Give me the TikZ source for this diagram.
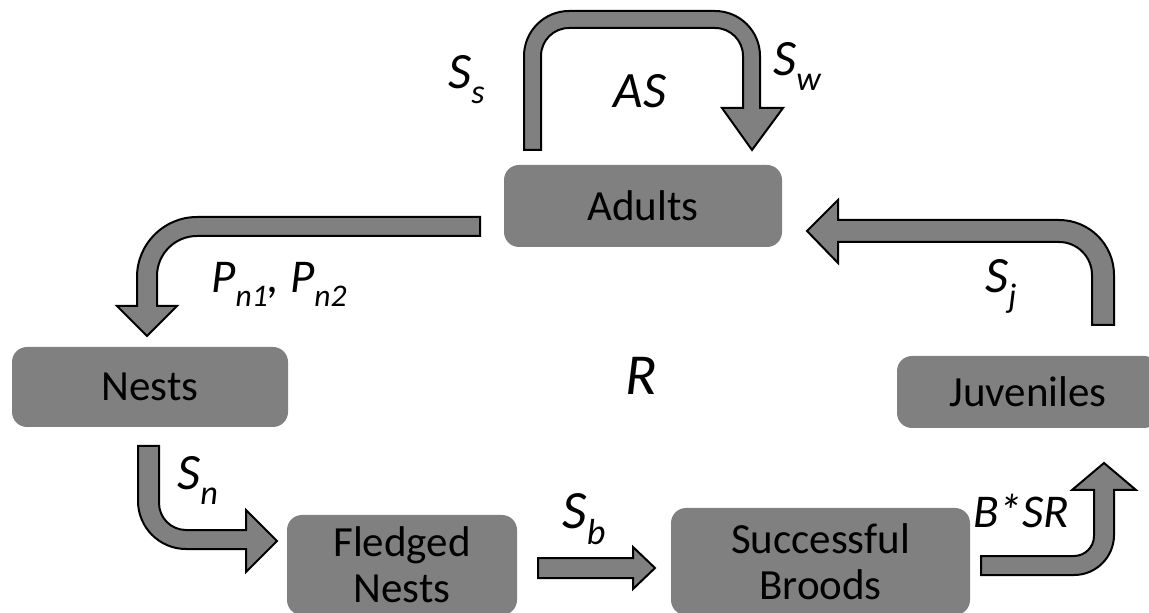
\documentclass[tikz,border=0pt]{standalone}
\usepackage{fontspec}
\setmainfont{Carlito}
\definecolor{boxgray}{RGB}{128,128,128}
\newcommand\lsub[1]{\raisebox{-0.28em}{\scalebox{0.67}{#1}}}
\begin{document}
\begin{tikzpicture}[x=0.5pt,y=-0.5pt,
  box/.style={fill=boxgray, rounded corners=7.5pt, inner sep=0pt, align=center,
    font=\fontsize{21.5}{23}\selectfont},
  barrow/.style={draw=black, line width=1pt, fill=boxgray, line join=miter},
  lab/.style={anchor=base west, inner sep=0pt, font=\fontsize{25.5}{28}\selectfont\itshape}]
\useasboundingbox (0,0) rectangle (1149,613);
\clip (0,0) rectangle (1149,613);

% boxes
\node[box, minimum width=139pt, minimum height=41pt] (adults) at (643,206) {Adults};
\node[box, minimum width=138pt, minimum height=40pt] (nests) at (150,387) {Nests};
\node[box, minimum width=115pt, minimum height=50pt] (fledged) at (402,565) {Fledged\\Nests};
\node[box, minimum width=149.5pt, minimum height=53.5pt] (broods) at (820.5,561.5) {Successful\\Broods};
\node[box, minimum width=131pt, minimum height=36pt] (juv) at (1028,392) {Juveniles};

% AS loop arrow
\draw[barrow] (524,150) -- (524,56) .. controls (524,31.2) and (544.2,11) .. (569,11)
  -- (715,11) .. controls (739.8,11) and (760,31.2) .. (760,56)
  -- (760,108) -- (783,108) -- (752,150) -- (722,108) -- (743,108)
  -- (743,56) .. controls (743,40.5) and (730.5,28) .. (715,28)
  -- (569,28) .. controls (553.5,28) and (541,40.5) .. (541,56)
  -- (541,150) -- cycle;

% Adults -> Nests
\draw[barrow] (480,217) -- (197,217) .. controls (163.9,217) and (137,243.9) .. (137,277)
  -- (137,306) -- (117,306) -- (147,336) -- (177,306) -- (157,306)
  -- (157,276) .. controls (157,253.9) and (174.9,236) .. (197,236)
  -- (480,236) -- cycle;

% Nests -> Fledged
\draw[barrow] (138,446) -- (138,501) .. controls (138,527.5) and (159.5,549) .. (186,549)
  -- (246,549) -- (246,572) -- (277,541) -- (246,510) -- (246,530)
  -- (186,530) .. controls (171.1,530) and (159,517.9) .. (159,503)
  -- (159,446) -- cycle;

% Fledged -> Broods
\draw[barrow] (538,558) -- (633,558) -- (633,547) -- (655,568) -- (633,589)
  -- (633,578) -- (538,578) -- cycle;

% Broods -> Juveniles
\draw[barrow] (981,556) -- (1074,556) .. controls (1085,556) and (1094,547) .. (1094,536)
  -- (1094,490) -- (1072,490) -- (1104,463) -- (1136,490) -- (1114,490)
  -- (1114,535) .. controls (1114,557.1) and (1096.1,575) .. (1074,575)
  -- (981,575) -- cycle;

% Juveniles -> Adults
\draw[barrow] (1092,325) -- (1092,275) .. controls (1092,256.8) and (1077.2,242) .. (1059,242)
  -- (838,242) -- (838,263) -- (807,231) -- (838,200) -- (838,220)
  -- (1059,220) .. controls (1089.4,220) and (1114,244.6) .. (1114,275)
  -- (1114,325) -- cycle;

% labels
\node[lab] (ss) at (448,89) {S\lsub{s}};
\node[lab, anchor=base] (as) at (640,108) {AS};
\node[lab] (sw) at (773,76) {S\lsub{w}};
\node[lab, font=\fontsize{23.5}{28}\selectfont\itshape] (pn) at (211,293) {P\lsub{n1}, P\lsub{n2}};
\node[lab] (sj) at (985,293) {S\lsub{j}};
\node[lab] (sn) at (177,490) {S\lsub{n}};
\node[lab, font=\fontsize{27}{30}\selectfont\itshape] (sb) at (562,529) {S\lsub{b}};
\node[lab, font=\fontsize{23.5}{28}\selectfont\itshape] (bsr) at (973,528) {B*SR};
\node[lab, anchor=base, font=\fontsize{29}{32}\selectfont\itshape] (r) at (641,395) {R};
\end{tikzpicture}
\end{document}
